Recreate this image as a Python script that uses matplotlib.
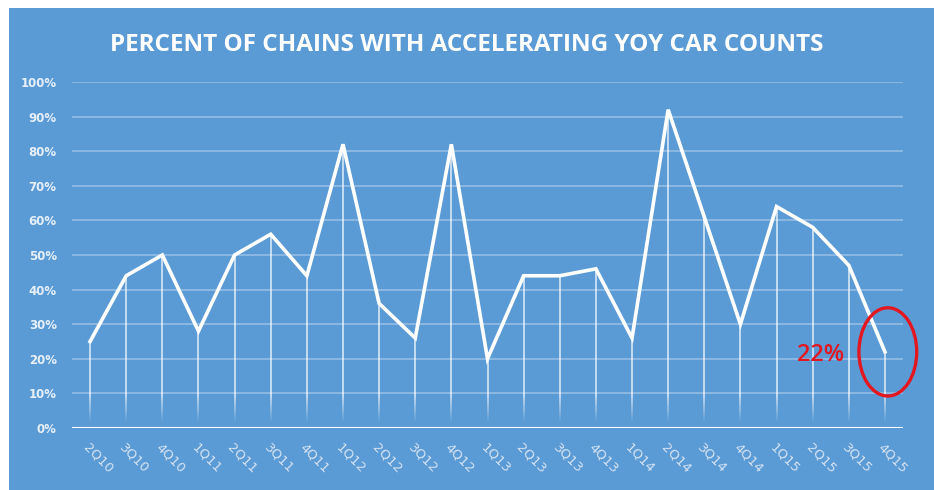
import matplotlib.pyplot as plt
from matplotlib.patches import Ellipse, Rectangle

# Trimestres y porcentaje de cadenas con conteo de autos acelerando (YoY)
trimestres = ['2Q10', '3Q10', '4Q10',
              '1Q11', '2Q11', '3Q11', '4Q11',
              '1Q12', '2Q12', '3Q12', '4Q12',
              '1Q13', '2Q13', '3Q13', '4Q13',
              '1Q14', '2Q14', '3Q14', '4Q14',
              '1Q15', '2Q15', '3Q15', '4Q15']
porcentajes = [25, 44, 50,
               28, 50, 56, 44,
               82, 36, 26, 82,
               20, 44, 44, 46,
               26, 92, 61, 30,
               64, 58, 47, 22]
ticks_y = [0, 10, 20, 30, 40, 50, 60, 70, 80, 90, 100]

azul = '#5b9bd5'
rojo = '#e3171f'

fig = plt.figure(figsize=(9.34, 4.9), dpi=100)
fig.patch.set_facecolor('white')

# Panel azul de fondo (deja una franja blanca arriba y a la izquierda)
fig.patches.append(Rectangle((9 / 934, 0), 1, 1 - 8 / 490, transform=fig.transFigure,
                             facecolor=azul, edgecolor='none', zorder=-10))

ax = fig.add_axes([72 / 934, 62 / 490, 831 / 934, 346 / 490])
ax.set_facecolor('none')
ax.set_zorder(2)

x = list(range(len(trimestres)))

# Lineas de cuadricula horizontales
for t in ticks_y[1:]:
    ax.axhline(t, color='white', alpha=0.35, linewidth=1.2, zorder=1)
ax.axhline(0, color='white', linewidth=2.2, zorder=3)

# Lineas verticales desde cada punto, desvaneciendo hacia abajo
corte = 10
pasos = 12
for xi, v in zip(x, porcentajes):
    ax.plot([xi, xi], [v, corte], color='white', alpha=0.7, linewidth=1.3, zorder=2,
            solid_capstyle='butt')
    for k in range(pasos):
        y0 = corte - k * (corte - 2) / pasos
        y1 = corte - (k + 1) * (corte - 2) / pasos
        ax.plot([xi, xi], [y0, y1], color='white', alpha=0.7 * (1 - k / pasos),
                linewidth=1.3, zorder=2, solid_capstyle='butt')

# Serie principal
ax.plot(x, porcentajes, color='white', linewidth=2.6, zorder=4, solid_joinstyle='miter')

ax.set_xlim(-0.5, len(trimestres) - 0.5)
ax.set_ylim(0, 100)
ax.set_yticks(ticks_y)
ax.set_yticklabels([f'{t}%' for t in ticks_y], color='white', alpha=0.85,
                   fontsize=8.5, fontweight='bold')
ax.set_xticks(x)
ax.set_xticklabels(trimestres, rotation=-45, ha='left', va='top',
                   rotation_mode='anchor', color='#d4e3f3', fontsize=9.5)
ax.tick_params(axis='y', length=0, pad=11)
ax.tick_params(axis='x', length=0, pad=9)
for s in ax.spines.values():
    s.set_visible(False)

# Resaltar el ultimo trimestre
ultimo = len(trimestres) - 1
ax.add_patch(Ellipse((ultimo + 0.08, porcentajes[-1]), 1.6, 25.5,
                     fill=False, edgecolor=rojo, linewidth=2.4, zorder=5, clip_on=False))
ax.text(ultimo - 1.78, porcentajes[-1] - 0.8, f'{porcentajes[-1]}%', color=rojo,
        fontsize=17, ha='center', va='center', zorder=5, family='Open Sans',
        fontweight='semibold')

fig.text(0.5, 1 - 45 / 490, 'PERCENT OF CHAINS WITH ACCELERATING YOY CAR COUNTS',
         color='white', fontsize=17.5, fontweight='bold', ha='center', va='center',
         family='Open Sans')

fig.savefig('out.png', dpi=100, facecolor=fig.get_facecolor())
